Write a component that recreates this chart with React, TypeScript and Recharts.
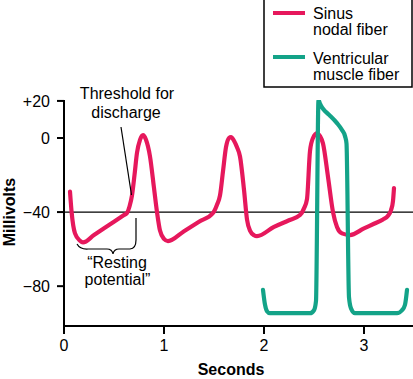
import React from 'react';
import { LineChart, Line, XAxis, YAxis, ReferenceLine } from 'recharts';

// Sinus nodal fiber (time in s, membrane potential in mV)
const sinusTime = [
  0.06, 0.077, 0.11, 0.16, 0.19, 0.3, 0.45, 0.6, 0.63, 0.655, 0.68, 0.705, 0.73, 0.76, 0.79, 0.82, 0.86, 0.9, 0.93,
  0.96, 1.0, 1.04, 1.2, 1.35, 1.49, 1.53, 1.56, 1.59, 1.62, 1.65, 1.67, 1.7, 1.73, 1.76, 1.8, 1.83, 1.86, 1.9, 1.93,
  2.1, 2.25, 2.36, 2.4, 2.43, 2.46, 2.49, 2.53, 2.56, 2.59, 2.64, 2.69, 2.73, 2.78, 2.86, 3.0, 3.1, 3.19, 3.24, 3.27,
  3.29, 3.3,
];
const sinusMv = [
  -29, -40.5, -51.5, -55.5, -56.4, -52.4, -47, -41.6, -40.5, -37, -31, -20, -8, -1, 1.5, -1, -10, -27, -40,
  -50, -54.5, -55.7, -50.3, -45.2, -40.5, -36, -31, -18, -5, 0, 0.5, -1.5, -5, -10, -28, -44, -50, -52.5, -53,
  -48, -44.4, -41.6, -38, -33, -7, 0, 2.5, 1, -3, -21, -40, -48, -51.5, -52.4, -48.8, -46.3, -44, -42, -39,
  -34, -27,
];

// Ventricular muscle fiber
const ventTime = [
  1.99, 2.01, 2.03, 2.06, 2.3, 2.46, 2.5, 2.52, 2.545, 2.56, 2.58, 2.62, 2.66, 2.73, 2.78, 2.81, 2.825, 2.85,
  2.87, 2.91, 3.1, 3.33, 3.38, 3.41, 3.43,
];
const ventMv = [
  -82, -90, -93.5, -94.6, -94.6, -94.6, -93, -88, 20.5, 18.5, 16.5, 14, 12, 8, 4.3, 1, -3, -86,
  -92, -94.6, -94.6, -94.6, -93, -90, -82,
];

const xTicks = [0, 1, 2, 3];
const yTicks = [20, 0, -40, -80];
const thresholdMv = -40;

const sinusData = sinusTime.map((t, i) => ({ t, v: sinusMv[i] }));
const ventData = ventTime.map((t, i) => ({ t, v: ventMv[i] }));

const RED = '#E6185C';
const GREEN = '#13A388';
const FONT = '"Liberation Sans", Arial, Helvetica, sans-serif';

const fmtY = (v: number) => (v > 0 ? `+${v}` : v < 0 ? `\u2212${Math.abs(v)}` : '0');

export default function App() {
  return (
    <div style={{ position: 'absolute', left: 0, top: 0, width: 413, height: 379, fontFamily: FONT, background: '#fff' }}>
      <LineChart width={413} height={379} margin={{ top: 100, right: 0, bottom: 0, left: 0 }}>
        <XAxis
          dataKey="t"
          type="number"
          domain={[0, 3.49]}
          ticks={xTicks}
          allowDataOverflow
          height={53}
          axisLine={{ stroke: '#000', strokeWidth: 2 }}
          tickLine={{ stroke: '#000', strokeWidth: 2 }}
          tickSize={8}
          tickMargin={6}
          tick={{ fill: '#000', fontSize: 16, fontFamily: FONT }}
        />
        <YAxis
          type="number"
          domain={[-101.5, 20.5]}
          ticks={yTicks}
          allowDataOverflow
          width={64}
          axisLine={{ stroke: '#000', strokeWidth: 2 }}
          tickLine={{ stroke: '#000', strokeWidth: 2 }}
          tickSize={7}
          tickMargin={7}
          tickFormatter={fmtY}
          tick={{ fill: '#000', fontSize: 16, fontFamily: FONT }}
        />
        <ReferenceLine y={thresholdMv} stroke="#000" strokeWidth={1.3} ifOverflow="extendDomain" />
        <Line
          data={sinusData}
          dataKey="v"
          type="monotone"
          stroke={RED}
          strokeWidth={4.2}
          dot={false}
          isAnimationActive={false}
          strokeLinecap="round"
          strokeLinejoin="round"
        />
        <Line
          data={ventData}
          dataKey="v"
          type="monotone"
          stroke={GREEN}
          strokeWidth={4.2}
          dot={false}
          isAnimationActive={false}
          strokeLinecap="round"
          strokeLinejoin="round"
        />
      </LineChart>
      <svg
        width={413}
        height={379}
        style={{ position: 'absolute', left: 0, top: 0, pointerEvents: 'none', fontFamily: FONT }}
      >
        {/* legend */}
        <rect x={264} y={-2} width={148} height={89} fill="#fff" stroke="#000" strokeWidth={1.5} />
        <line x1={273} x2={305} y1={13} y2={13} stroke={RED} strokeWidth={4} />
        <line x1={273} x2={305} y1={57} y2={57} stroke={GREEN} strokeWidth={4} />
        <text x={313} y={18.5} fontSize={16} fill="#000">Sinus</text>
        <text x={313} y={35} fontSize={16} fill="#000">nodal fiber</text>
        <text x={313} y={63.5} fontSize={16} fill="#000">Ventricular</text>
        <text x={313} y={79.5} fontSize={16} fill="#000">muscle fiber</text>

        {/* axis titles */}
        <text transform="translate(15,212) rotate(-90)" textAnchor="middle" fontSize={16} fontWeight="bold" fill="#000">
          Millivolts
        </text>
        <text x={231} y={375} textAnchor="middle" fontSize={16} fontWeight="bold" fill="#000">
          Seconds
        </text>

        {/* annotations */}
        <text x={127} y={98.5} textAnchor="middle" fontSize={16} fill="#000">Threshold for</text>
        <text x={126} y={117.5} textAnchor="middle" fontSize={16} fill="#000">discharge</text>
        <line x1={121} y1={127} x2={131.5} y2={195} stroke="#000" strokeWidth={1.2} />
        <path
          d="M 77 244 Q 80 249.5 88 249 L 107 249 Q 112 249 113 254 Q 114 249 119 249 L 130 249 Q 136 248.5 136 240 L 136 218"
          fill="none"
          stroke="#000"
          strokeWidth={1.2}
        />
        <text x={117} y={268} textAnchor="middle" fontSize={16} fill="#000">{'\u201CResting'}</text>
        <text x={117.5} y={285} textAnchor="middle" fontSize={16} fill="#000">{'potential\u201D'}</text>
      </svg>
    </div>
  );
}
